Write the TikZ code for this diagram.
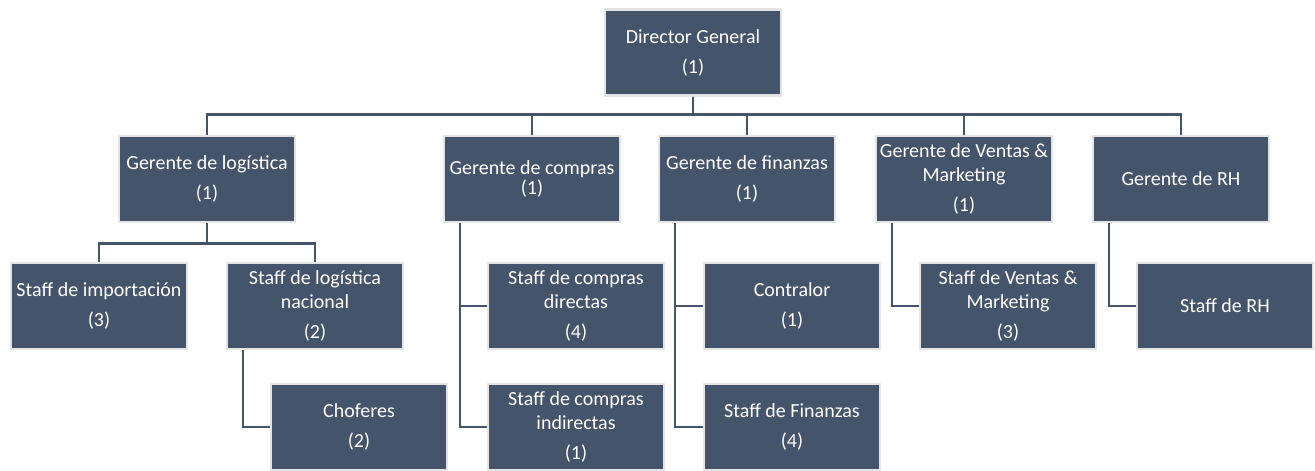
\documentclass[tikz,border=0pt]{standalone}
\usepackage{fontspec}
\setmainfont{Carlito}
\usepackage{tikz}
\tikzset{>=stealth}
\usetikzlibrary{calc}
\definecolor{cajaazul}{HTML}{44546A}
\definecolor{bordegris}{HTML}{E4E4E4}
\tikzset{
  puesto/.style={draw=bordegris, line width=2.5pt, fill=cajaazul, text=white,
    minimum width=176pt, minimum height=86pt, align=center, inner sep=2pt,
    font=\fontsize{20}{24}\selectfont},
  linea/.style={draw=cajaazul, line width=2.8pt}
}

\begin{document}
\begin{tikzpicture}[x=1pt,y=1pt]
    \useasboundingbox (0,0) rectangle (1315,471);
    \node[puesto] (dir) at (693,418.5) {Director General\\[6pt](1)};
    \node[puesto] (glog) at (207,292) {Gerente de logística\\[6pt](1)};
    \node[puesto] (gcom) at (532,292) {Gerente de compras\\[-4pt](1)};
    \node[puesto] (gfin) at (747,292) {Gerente de finanzas\\[6pt](1)};
    \node[puesto] (gven) at (964,292) {Gerente de Ventas \&\\Marketing\\[6pt](1)};
    \node[puesto] (grh) at (1181,292) {Gerente de RH};
    \node[puesto] (simp) at (99,165) {Staff de importación\\[6pt](3)};
    \node[puesto] (slog) at (315,165) {Staff de logística\\nacional\\[6pt](2)};
    \node[puesto] (chof) at (359,44) {Choferes\\[6pt](2)};
    \node[puesto] (scd) at (576,165) {Staff de compras\\directas\\[6pt](4)};
    \node[puesto] (sci) at (576,44) {Staff de compras\\indirectas\\[6pt](1)};
    \node[puesto] (cont) at (792,165) {Contralor\\[6pt](1)};
    \node[puesto] (sfin) at (792,44) {Staff de Finanzas\\[6pt](4)};
    \node[puesto] (sven) at (1008,165) {Staff de Ventas \&\\Marketing\\[6pt](3)};
    \node[puesto] (srh) at (1225,165) {Staff de RH};
    \foreach \g in {glog,gcom,gfin,gven,grh}
        \draw[linea] (dir.south) -- ++(0,-18) -| (\g.north);
    \draw[linea] (glog.south) -- ++(0,-20) -| (simp.north);
    \draw[linea] (glog.south) -- ++(0,-20) -| (slog.north);
    \draw[linea] ([xshift=-72pt]slog.south) |- (chof.west);
    \draw[linea] ([xshift=-72pt]gcom.south) |- (scd.west);
    \draw[linea] ([xshift=-72pt]gcom.south) |- (sci.west);
    \draw[linea] ([xshift=-72pt]gfin.south) |- (cont.west);
    \draw[linea] ([xshift=-72pt]gfin.south) |- (sfin.west);
    \draw[linea] ([xshift=-72pt]gven.south) |- (sven.west);
    \draw[linea] ([xshift=-72pt]grh.south) |- (srh.west);
\end{tikzpicture}
\end{document}
